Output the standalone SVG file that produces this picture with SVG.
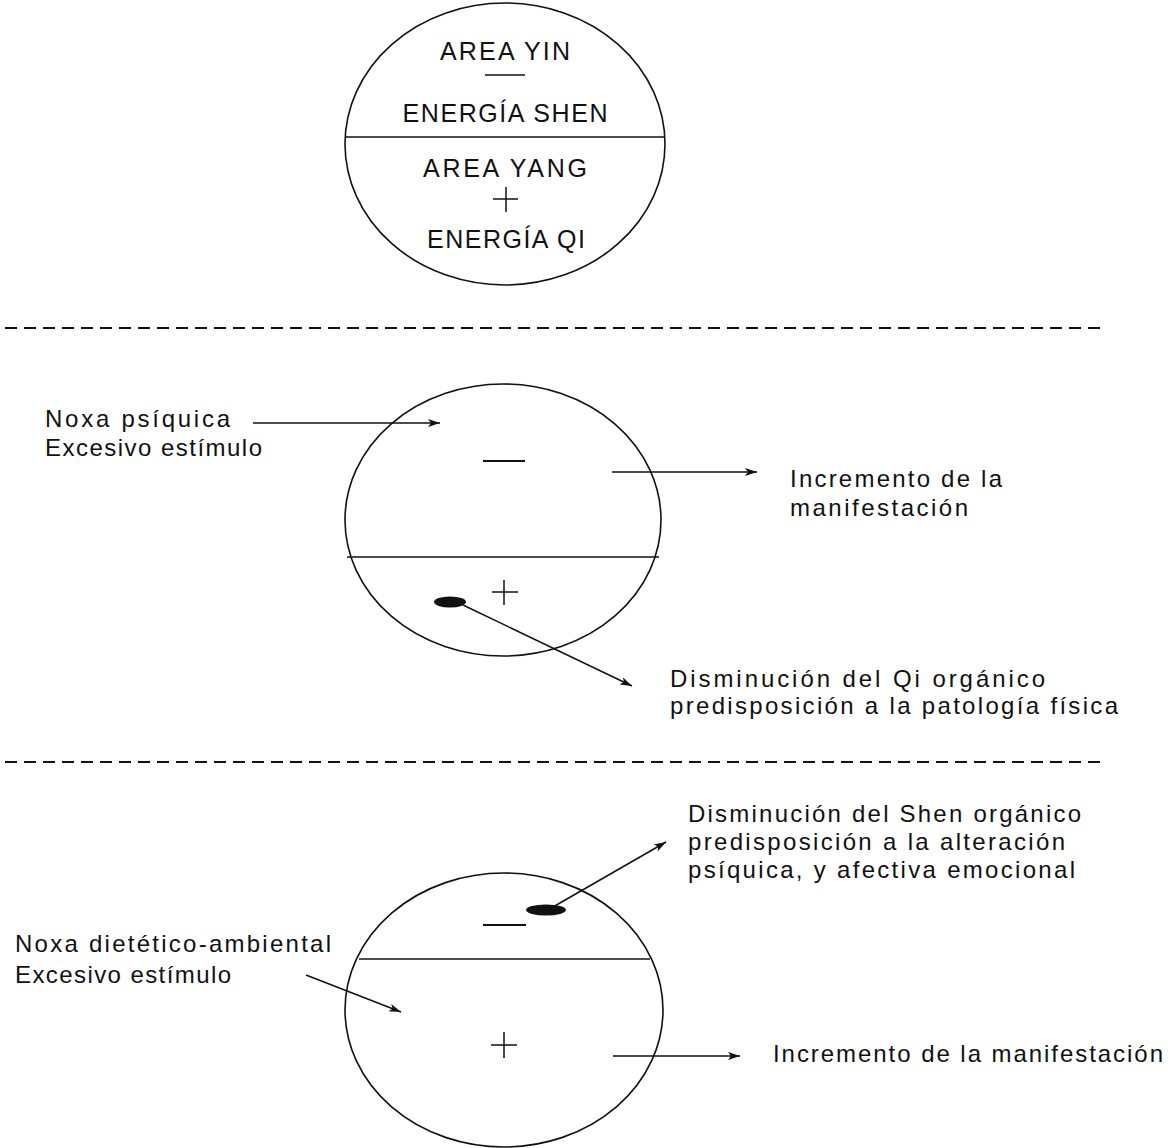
<svg xmlns="http://www.w3.org/2000/svg" width="1173" height="1148" viewBox="0 0 1173 1148">
<defs>
<marker id="ah" markerUnits="userSpaceOnUse" markerWidth="14" markerHeight="10" refX="12" refY="5" orient="auto">
<path d="M0,1 L12,5 L0,9 L3,5 Z" fill="#111"/>
</marker>
</defs>
<style>
.sh{fill:none;stroke:#111;stroke-width:1.6}
.ln{fill:none;stroke:#111;stroke-width:1.5}
.ar{fill:none;stroke:#111;stroke-width:1.5;marker-end:url(#ah)}
.dash{fill:none;stroke:#111;stroke-width:2;stroke-dasharray:12 7}
.blob{fill:#111}
.t{font-family:"Liberation Sans",Arial,sans-serif;font-size:24px;fill:#111}
.tc{font-family:"Liberation Sans",Arial,sans-serif;font-size:25px;fill:#111;text-anchor:middle}
</style>
<rect width="1173" height="1148" fill="#fff"/>

<g id="node-top">
<ellipse class="sh" cx="505" cy="144" rx="160" ry="141"/>
<line class="ln" x1="345" y1="137" x2="665" y2="137"/>
<text class="tc" x="505" y="60" textLength="130">AREA YIN</text>
<line class="ln" x1="485" y1="75" x2="525" y2="75"/>
<text class="tc" x="505" y="122" textLength="205">ENERGÍA SHEN</text>
<text class="tc" x="505" y="177" textLength="164">AREA YANG</text>
<line class="ln" x1="493" y1="199" x2="518" y2="199"/>
<line class="ln" x1="506" y1="187" x2="506" y2="212"/>
<text class="tc" x="506" y="248" textLength="158">ENERGÍA QI</text>
</g>

<g id="separators">
<line class="dash" x1="5" y1="328" x2="1107" y2="328"/>
<line class="dash" x1="5" y1="762" x2="1107" y2="762"/>
</g>

<g id="node-middle">
<ellipse class="sh" cx="503" cy="520" rx="158" ry="136"/>
<line class="ln" x1="347" y1="557" x2="659" y2="557"/>
<line class="ln" x1="483" y1="461" x2="525" y2="461" style="stroke-width:2"/>
<line class="ln" x1="492" y1="592" x2="518" y2="592"/>
<line class="ln" x1="504" y1="580" x2="504" y2="605"/>
<ellipse class="blob" cx="450" cy="602" rx="16" ry="5.5"/>
</g>

<g id="node-bottom">
<ellipse class="sh" cx="504" cy="1010" rx="159" ry="137"/>
<line class="ln" x1="359" y1="959" x2="650" y2="959"/>
<line class="ln" x1="483" y1="925" x2="526" y2="925" style="stroke-width:2"/>
<line class="ln" x1="491" y1="1045" x2="517" y2="1045"/>
<line class="ln" x1="504" y1="1032" x2="504" y2="1058"/>
<ellipse class="blob" cx="546" cy="910" rx="20" ry="5.5"/>
</g>

<g id="labels">
<text class="t" x="45" y="427" textLength="185">Noxa psíquica</text>
<text class="t" x="45" y="456" textLength="217">Excesivo estímulo</text>
<text class="t" x="790" y="487" textLength="212">Incremento de la</text>
<text class="t" x="790" y="516" textLength="178">manifestación</text>
<text class="t" x="670" y="687" textLength="375">Disminución del Qi orgánico</text>
<text class="t" x="670" y="714" textLength="448">predisposición a la patología física</text>
<text class="t" x="688" y="822" textLength="393">Disminución del Shen orgánico</text>
<text class="t" x="688" y="850" textLength="377">predisposición a la alteración</text>
<text class="t" x="688" y="878" textLength="387">psíquica, y afectiva emocional</text>
<text class="t" x="15" y="952" textLength="316">Noxa dietético-ambiental</text>
<text class="t" x="15" y="983" textLength="216">Excesivo estímulo</text>
<text class="t" x="773" y="1062" textLength="390">Incremento de la manifestación</text>
</g>

<g id="connectors">
<line class="ar" x1="253" y1="423" x2="440" y2="423"/>
<line class="ar" x1="612" y1="472" x2="757" y2="472"/>
<line class="ar" x1="463" y1="605" x2="632" y2="686"/>
<line class="ar" x1="553" y1="907" x2="666" y2="842"/>
<line class="ar" x1="306" y1="975" x2="401" y2="1012"/>
<line class="ar" x1="613" y1="1056" x2="740" y2="1056"/>
</g>
</svg>
